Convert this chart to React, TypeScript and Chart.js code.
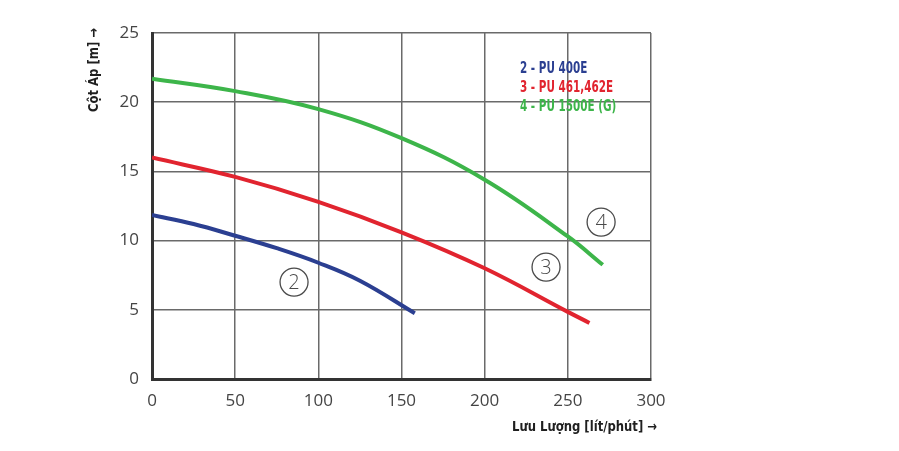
import React, { useEffect, useRef } from "react";
import { Chart, registerables } from "chart.js";

Chart.register(...registerables);

const xTicks = [0, 50, 100, 150, 200, 250, 300];
const yTicks = [0, 5, 10, 15, 20, 25];

const pu400X = [0, 25, 50, 75, 100, 125, 158];
const pu400Y = [11.85, 11.2, 10.35, 9.45, 8.4, 7.1, 4.75];

const pu461X = [0, 50, 100, 150, 200, 250, 263];
const pu461Y = [16.0, 14.6, 12.8, 10.6, 8.0, 4.85, 4.05];

const pu1500X = [0, 50, 100, 150, 200, 250, 271];
const pu1500Y = [21.7, 20.8, 19.5, 17.4, 14.4, 10.3, 8.25];

const seriesNames = ["2 - PU 400E", "3 - PU 461,462E", "4 - PU 1500E (G)"];
const seriesColors = ["#2b3f91", "#e1242f", "#3db54a"];

const curveTags = ["2", "3", "4"];
const tagX = [85.4, 236.9, 270];
const tagY = [7.0, 8.09, 11.34];

const xTitle = "Lưu Lượng [lít/phút] →";
const yTitle = "Cột Áp [m] →";

function pts(xs: number[], ys: number[]) {
  return xs.map((x, i) => ({ x, y: ys[i] }));
}

const condensed = "'DejaVu Sans Condensed', 'DejaVu Sans', sans-serif";

const overlay = {
  id: "overlay",
  afterDraw(chart: any) {
    const ctx = chart.ctx as CanvasRenderingContext2D;
    const xs = chart.scales.x;
    const ys = chart.scales.y;
    ctx.save();
    for (let i = 0; i < curveTags.length; i++) {
      const cx = xs.getPixelForValue(tagX[i]);
      const cy = ys.getPixelForValue(tagY[i]);
      ctx.beginPath();
      ctx.arc(cx, cy, 14, 0, Math.PI * 2);
      ctx.strokeStyle = "#4a4a4a";
      ctx.lineWidth = 1.3;
      ctx.stroke();
      ctx.fillStyle = "#4a4a4a";
      ctx.font = "300 20px 'Open Sans', sans-serif";
      ctx.textAlign = "center";
      ctx.textBaseline = "middle";
      ctx.fillText(curveTags[i], cx, cy + 1);
    }
    ctx.font = "bold 16px " + condensed;
    ctx.textAlign = "left";
    ctx.textBaseline = "middle";
    const refW = ctx.measureText(seriesNames[1]).width;
    const k = 93 / refW;
    const rows = [69, 88, 107];
    for (let i = 0; i < seriesNames.length; i++) {
      ctx.save();
      ctx.translate(520, rows[i]);
      ctx.scale(k, 1);
      ctx.fillStyle = seriesColors[i];
      ctx.fillText(seriesNames[i], 0, 0);
      ctx.restore();
    }
    ctx.font = "bold 14px " + condensed;
    ctx.fillStyle = "#1f1f1f";
    const xw = ctx.measureText(xTitle).width;
    ctx.save();
    ctx.translate(512, 427);
    ctx.scale(145 / xw, 1);
    ctx.textAlign = "left";
    ctx.fillText(xTitle, 0, 0);
    ctx.restore();
    const yw = ctx.measureText(yTitle).width;
    ctx.save();
    ctx.translate(94, 112);
    ctx.rotate(-Math.PI / 2);
    ctx.scale(84 / yw, 1);
    ctx.textAlign = "left";
    ctx.fillText(yTitle, 0, 0);
    ctx.restore();
    ctx.restore();
  },
};

export default function App() {
  const ref = useRef<HTMLCanvasElement>(null);
  useEffect(() => {
    document.body.style.margin = "0";
    const canvas = ref.current!;
    const mk = (xs: number[], ys: number[], i: number) => ({
      label: seriesNames[i],
      data: pts(xs, ys),
      borderColor: seriesColors[i],
      backgroundColor: seriesColors[i],
      borderWidth: 4,
      pointRadius: 0,
      tension: 0.4,
      fill: false,
      borderCapStyle: "butt" as const,
    });
    const chart = new Chart(canvas, {
      type: "line",
      data: {
        datasets: [
          mk(pu400X, pu400Y, 0),
          mk(pu461X, pu461Y, 1),
          mk(pu1500X, pu1500Y, 2),
        ],
      },
      options: {
        animation: false,
        responsive: false,
        layout: { padding: { top: 33, right: 248, left: 0, bottom: 0 } },
        plugins: { legend: { display: false }, tooltip: { enabled: false } },
        scales: {
          x: {
            type: "linear",
            min: 0,
            max: 300,
            afterBuildTicks: (s: any) => {
              s.ticks = xTicks.map((v) => ({ value: v }));
            },
            afterFit: (s: any) => {
              s.height = 72;
            },
            grid: { color: "#6a6a6a", lineWidth: 1.5, drawTicks: false },
            border: { color: "#333", width: 3 },
            ticks: {
              padding: 12,
              color: "#444",
              font: { family: "'Open Sans', sans-serif", size: 17 },
              maxRotation: 0,
            },
          },
          y: {
            type: "linear",
            min: 0,
            max: 25,
            afterBuildTicks: (s: any) => {
              s.ticks = yTicks.map((v) => ({ value: v }));
            },
            afterFit: (s: any) => {
              s.width = 152;
            },
            grid: { color: "#6a6a6a", lineWidth: 1.5, drawTicks: false },
            border: { color: "#333", width: 3 },
            ticks: {
              padding: 13,
              color: "#444",
              font: { family: "'Open Sans', sans-serif", size: 17 },
            },
          },
        },
      },
      plugins: [overlay],
    });
    return () => chart.destroy();
  }, []);
  return (
    <div style={{ position: "absolute", left: 0, top: 0, width: 899, height: 451, background: "#fff" }}>
      <canvas ref={ref} width={899} height={451} />
    </div>
  );
}
